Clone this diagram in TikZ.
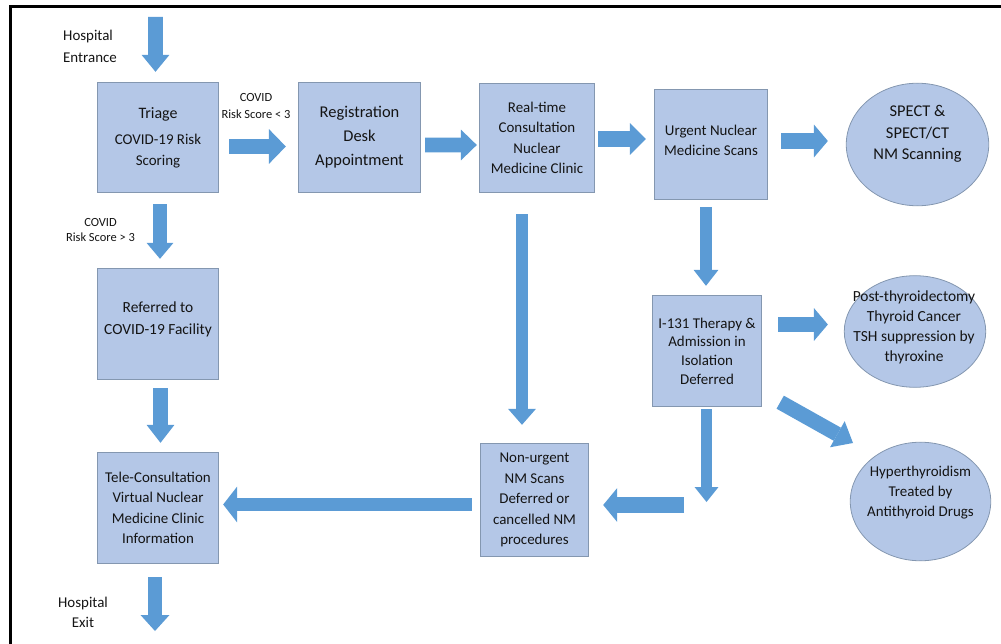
\documentclass[tikz,border=0pt]{standalone}
\usepackage{fontspec}
\setmainfont{Carlito}
\usetikzlibrary{arrows.meta,shapes.geometric,calc}
\definecolor{boxfill}{HTML}{B4C7E7}
\definecolor{boxline}{HTML}{8497B0}
\definecolor{arrowblue}{HTML}{5B9BD5}
\definecolor{txt}{HTML}{141414}
\begin{document}
\begin{tikzpicture}[x=1bp,y=-1bp,
  box/.style={draw=boxline, fill=boxfill, line width=0.8bp, align=center, text=txt, inner sep=0pt,
    font=\fontsize{15}{20.5}\selectfont},
  ell/.style={ellipse, draw=boxline, fill=boxfill, line width=0.8bp, inner sep=0pt},
  eltext/.style={align=center, text=txt, inner sep=0pt, font=\fontsize{15}{19}\selectfont},
  lbl/.style={align=center, text=txt, inner sep=0pt, font=\fontsize{12.5}{16}\selectfont},
  bar/.style n args={3}{draw=arrowblue, line width=#1, line cap=butt,
    -{Triangle[width=#2,length=#3,line width=0pt]}}
]
\useasboundingbox (0,0) rectangle (1001,644);
% frame
\draw[line width=3bp, black] (1001,7) -- (10,7) -- (10,644);

% boxes
\node[box, minimum width=122, minimum height=111] (triage) at (158,137.5)
  {\fontsize{16}{20}\selectfont Triage\\[6pt]COVID-19 Risk\\Scoring};
\node[box, minimum width=123, minimum height=111, font=\fontsize{16.5}{24}\selectfont] (reg) at (359.5,137.5)
  {Registration\\Desk\\Appointment};
\node[box, minimum width=116, minimum height=110] (rt) at (537,138)
  {Real-time\\Consultation\\Nuclear\\Medicine Clinic};
\node[box, minimum width=114, minimum height=111] (urg) at (711,144.5) {};
\node[eltext, font=\fontsize{15}{20}\selectfont] (urgt) at (711,140) {Urgent Nuclear\\Medicine Scans};
\node[ell, minimum width=143, minimum height=123] (spect) at (917.5,144.5) {};
\node[eltext, font=\fontsize{16.5}{21.5}\selectfont] (spectt) at (917.5,134) {SPECT \&\\SPECT/CT\\NM Scanning};

\node[box, minimum width=122, minimum height=112] (ref) at (158,324) {};
\node[eltext, font=\fontsize{15.5}{22}\selectfont] (reft) at (158,319) {Referred to\\COVID-19 Facility};
\node[box, minimum width=122, minimum height=112] (tele) at (158,508)
  {Tele-Consultation\\Virtual Nuclear\\Medicine Clinic\\Information};
\node[box, minimum width=110, minimum height=112, font=\fontsize{15}{18.7}\selectfont] (i131) at (707,351)
  {I-131 Therapy \&\\Admission in\\Isolation\\Deferred};
\node[box, minimum width=109, minimum height=114] (nonurg) at (534.5,500)
  {Non-urgent\\NM Scans\\Deferred or\\cancelled NM\\procedures};
\node[ell, minimum width=142, minimum height=112] (post) at (915,331.5) {};
\node[eltext, font=\fontsize{15.5}{20}\selectfont] (postt) at (914,327.5)
  {Post-thyroidectomy\\Thyroid Cancer\\TSH suppression by\\thyroxine};
\node[ell, minimum width=141, minimum height=119] (hyper) at (920.5,501.5) {};
\node[eltext, font=\fontsize{15}{20}\selectfont] (hypert) at (920.5,493)
  {Hyperthyroidism\\Treated by\\Antithyroid Drugs};

% labels
\node[eltext, anchor=west, align=left, font=\fontsize{15}{22}\selectfont] (entr) at (63,46) {Hospital\\Entrance};
\node[eltext, font=\fontsize{15}{20}\selectfont] (exitl) at (83,612) {Hospital\\Exit};
\node[lbl, font=\fontsize{12.5}{17}\selectfont] (low) at (256,106) {COVID\\Risk Score < 3};
\node[lbl, font=\fontsize{12.5}{15}\selectfont] (high) at (100.5,230) {COVID\\Risk Score > 3};

% free ends
\coordinate (entry) at (155.5,17);
\coordinate (exitpt) at (155,631);
\coordinate (dn) at (706.5,502);
\coordinate (dnstart) at (684,505);

% arrows
\draw[bar={15}{28}{17}] (entry) -- ($(triage.north)+(-2.5,-10)$);
\draw[bar={15}{35}{17}] ($(triage.east)+(10,9)$) -- ($(reg.west)+(-12,9)$);
\draw[bar={15}{31}{16}] ($(reg.east)+(4,7.5)$) -- ($(rt.west)+(-2,7)$);
\draw[bar={16}{32}{16}] ($(rt.east)+(3,1)$) -- ($(urg.west)+(-8,-5.5)$);
\draw[bar={16}{33}{14}] ($(urg.east)+(13,-3.5)$) -- ($(spect.west)+(-18,-3.5)$);
\draw[bar={14}{27}{16}] ($(triage.south)+(2,11)$) -- ($(ref.north)+(2,-9)$);
\draw[bar={15}{28}{18}] ($(ref.south)+(2.5,8)$) -- ($(tele.north)+(2.5,-9)$);
\draw[bar={14}{29}{16}] ($(tele.south)+(-3,13)$) -- (exitpt);
\draw[bar={12}{28}{16}] ($(rt.south)+(-15,21)$) -- ($(nonurg.north)+(-12.5,-18)$);
\draw[bar={13}{25}{16}] ($(urg.south)+(-5,7)$) -- ($(i131.north)+(-1,-9)$);
\draw[bar={15}{33}{14}] ($(i131.east)+(16,-26.5)$) -- ($(post.west)+(-16,-7)$);
\draw[bar={15}{30}{18}] ($(i131.south east)+(18,-5)$) -- ($(hyper.center)+(-67.5,-58.5)$);
\draw[bar={11}{24}{15}] ($(i131.south)+(-0.5,2)$) -- (dn);
\draw[bar={16}{34}{14}] (dnstart) -- ($(nonurg.east)+(14,5)$);
\draw[bar={13}{36}{14}] ($(nonurg.west)+(-8,4.5)$) -- ($(tele.east)+(4,-3.5)$);
\end{tikzpicture}
\end{document}
